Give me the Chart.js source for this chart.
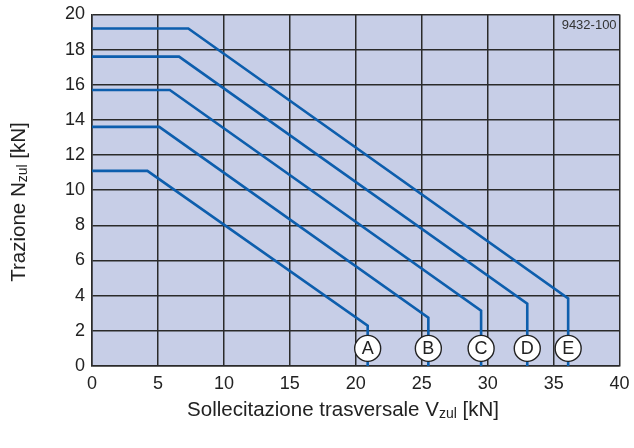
<!DOCTYPE html>
<html><head><meta charset="utf-8">
<script src="https://cdn.jsdelivr.net/npm/chart.js@4/dist/chart.umd.min.js"></script>
<style>html,body{margin:0;padding:0;background:#fff}</style>
</head><body>
<canvas id="c" width="634" height="448" style="width:634px;height:448px;display:block"></canvas>
<script>
// ---- data ----
const curveLabels = ['A', 'B', 'C', 'D', 'E'];
const flatN  = [11.1, 13.6, 15.7, 17.6, 19.2];   // plateau tension N_zul [kN]
const bendV  = [4.2, 5.1, 5.9, 6.6, 7.3];        // V where the plateau ends [kN]
const endV   = [20.9, 25.5, 29.5, 33.0, 36.1];   // maximum shear V_zul [kN]
const endN   = [2.3, 2.75, 3.15, 3.55, 3.85];    // N at maximum shear [kN]
const markerN = [1, 1, 1, 1, 1];                 // height of the letter circles
const xTicks = [0, 5, 10, 15, 20, 25, 30, 35, 40];
const yTicks = [0, 2, 4, 6, 8, 10, 12, 14, 16, 18, 20];
const codeLabel = '9432-100';

const LINE = '#0d5ead';
const GRID = '#2a2a2a';
const BG = '#c7cee7';
const FONT = "'Liberation Sans', Arial, sans-serif";

const lineSets = curveLabels.map((lab, i) => ({
  type: 'line',
  label: lab,
  data: [
    {x: 0, y: flatN[i]},
    {x: bendV[i], y: flatN[i]},
    {x: endV[i], y: endN[i]},
    {x: endV[i], y: 0}
  ],
  borderColor: LINE,
  borderWidth: 2.6,
  pointRadius: 0,
  fill: false,
  tension: 0,
  order: 2,
  clip: false
}));

const markerSet = {
  type: 'scatter',
  label: 'markers',
  data: curveLabels.map((l, i) => ({x: endV[i], y: markerN[i]})),
  pointRadius: 13,
  pointHoverRadius: 13,
  backgroundColor: '#ffffff',
  borderColor: '#222222',
  borderWidth: 1.4,
  order: 0
};

const bgPlugin = {
  id: 'bg',
  beforeDraw(chart) {
    const a = chart.chartArea, ctx = chart.ctx;
    ctx.save(); ctx.fillStyle = BG;
    ctx.fillRect(a.left, a.top, a.right - a.left, a.bottom - a.top);
    ctx.restore();
  }
};

function drawSubText(ctx, parts, cx, cy) {
  let total = 0;
  parts.forEach(p => { ctx.font = p[1] + 'px ' + FONT; total += ctx.measureText(p[0]).width; });
  let x = cx - total / 2;
  parts.forEach(p => {
    ctx.font = p[1] + 'px ' + FONT;
    ctx.fillText(p[0], x, cy + p[2]);
    x += ctx.measureText(p[0]).width;
  });
}

const textPlugin = {
  id: 'texts',
  afterDatasetsDraw(chart) {
    const ctx = chart.ctx, xs = chart.scales.x, ys = chart.scales.y;
    ctx.save();
    ctx.fillStyle = '#222';
    ctx.textAlign = 'center'; ctx.textBaseline = 'middle';
    ctx.font = '18px ' + FONT;
    curveLabels.forEach((l, i) => {
      ctx.fillText(l, xs.getPixelForValue(endV[i]), ys.getPixelForValue(markerN[i]) + 1);
    });
    ctx.restore();
  },
  afterDraw(chart) {
    const ctx = chart.ctx, a = chart.chartArea;
    ctx.save();
    ctx.fillStyle = '#222';
    ctx.textAlign = 'left'; ctx.textBaseline = 'alphabetic';
    drawSubText(ctx, [['Sollecitazione trasversale V', 20.5, 0], ['zul', 14, 2], [' [kN]', 20.5, 0]], 343, 416);
    ctx.translate(25, 202); ctx.rotate(-Math.PI / 2);
    drawSubText(ctx, [['Trazione N', 20.5, 0], ['zul', 14, 2], [' [kN]', 20.5, 0]], 0, 0);
    ctx.restore();
    ctx.save();
    ctx.fillStyle = '#333';
    ctx.font = "13px 'Liberation Sans Narrow', 'Liberation Sans', Arial, sans-serif";
    ctx.textAlign = 'right'; ctx.textBaseline = 'middle';
    ctx.fillText(codeLabel, a.right - 3, a.top + 11);
    ctx.restore();
  }
};

new Chart(document.getElementById('c'), {
  data: { datasets: [markerSet, ...lineSets] },
  options: {
    responsive: false,
    animation: false,
    devicePixelRatio: 1,
    layout: { padding: { top: 13, right: 12, left: 0, bottom: 0 } },
    plugins: { legend: { display: false }, tooltip: { enabled: false } },
    events: [],
    scales: {
      x: {
        type: 'linear', min: 0, max: 40,
        afterBuildTicks(s) { s.ticks = xTicks.map(v => ({value: v})); },
        afterFit(s) { s.height = 82; s.paddingLeft = 0; s.paddingRight = 0; },
        grid: { color: GRID, lineWidth: 1.5, drawTicks: false },
        border: { color: GRID, width: 1.5 },
        ticks: { color: '#222', font: { family: FONT, size: 18 }, padding: 7, maxRotation: 0 }
      },
      y: {
        type: 'linear', min: 0, max: 20,
        afterBuildTicks(s) { s.ticks = yTicks.map(v => ({value: v})); },
        afterFit(s) { s.width = 92; s.paddingTop = 0; s.paddingBottom = 0; },
        grid: { color: GRID, lineWidth: 1.5, drawTicks: false },
        border: { color: GRID, width: 1.5 },
        ticks: { color: '#222', font: { family: FONT, size: 18 }, padding: 7 }
      }
    }
  },
  plugins: [bgPlugin, textPlugin]
});
</script>
</body></html>
